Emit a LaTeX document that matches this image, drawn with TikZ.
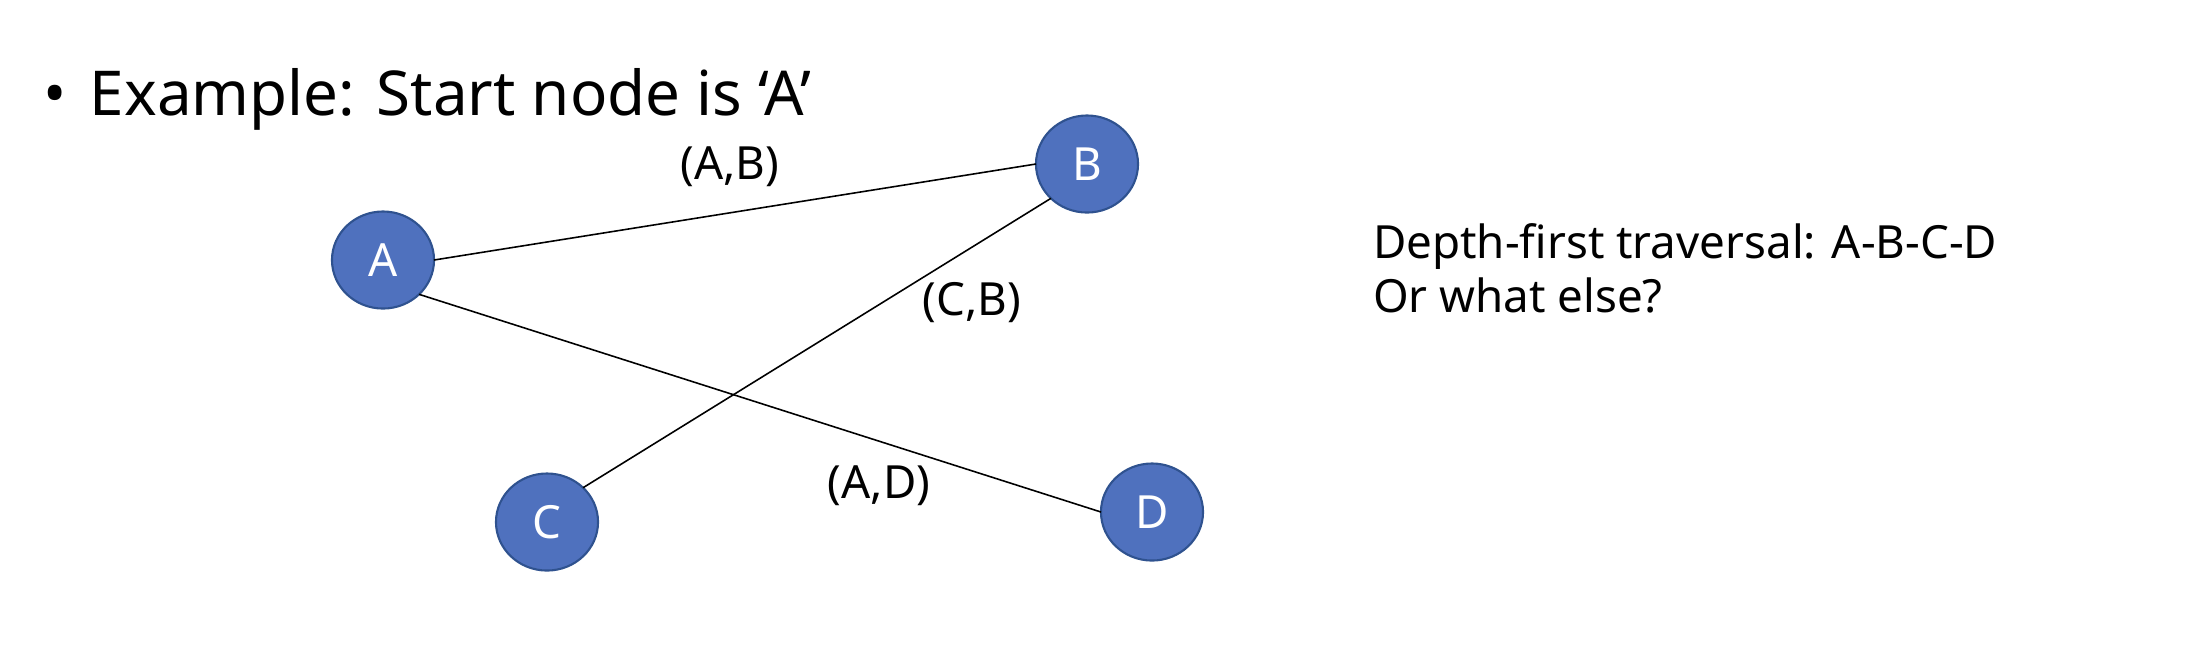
\documentclass[tikz,border=0pt]{standalone}
\usepackage{fontspec}
\setmainfont{Noto Sans}
\usetikzlibrary{shapes.geometric}
\definecolor{nodefill}{HTML}{4F71BE}
\definecolor{nodeline}{HTML}{2F528F}
\tikzset{
  vert/.style={ellipse, fill=nodefill, draw=nodeline, line width=0.6pt,
    minimum width=1.02cm, minimum height=0.97cm, inner sep=0pt, outer sep=0pt,
    text=white, font=\fontsize{13}{15}\selectfont},
  edgeline/.style={draw=black, line width=0.45pt},
  lbl/.style={inner sep=0pt, outer sep=0pt, font=\fontsize{13}{15}\selectfont},
  txt/.style={inner sep=0pt, outer sep=0pt, anchor=base west, font=\fontsize{13}{15}\selectfont},
}
\begin{document}
\begin{tikzpicture}[x=0.01cm, y=-0.01cm]
\useasboundingbox (0,0) rectangle (2188,644);
\node[txt, font=\fontsize{17.6}{20}\selectfont] (title) at (44,115) {\makebox[0.46cm][l]{•}Example: Start node is ‘A’};
\node[vert] (A) at (383,260) {A};
\node[vert] (B) at (1087,164) {B};
\node[vert] (C) at (547,522) {C};
\node[vert] (D) at (1152,512) {D};
\draw[edgeline] (A.east) -- (B.west);
\draw[edgeline] (A.south east) -- (D.west);
\draw[edgeline] (C.north east) -- (B.south west);
\node[lbl] (lab) at (730,167) {(A,B)};
\node[lbl] (lcb) at (972,303) {(C,B)};
\node[lbl] (lad) at (879,486) {(A,D)};
\node[txt] (t1) at (1373,258) {Depth-first traversal: A-B-C-D};
\node[txt] (t2) at (1373,312) {Or what else?};
\end{tikzpicture}
\end{document}
